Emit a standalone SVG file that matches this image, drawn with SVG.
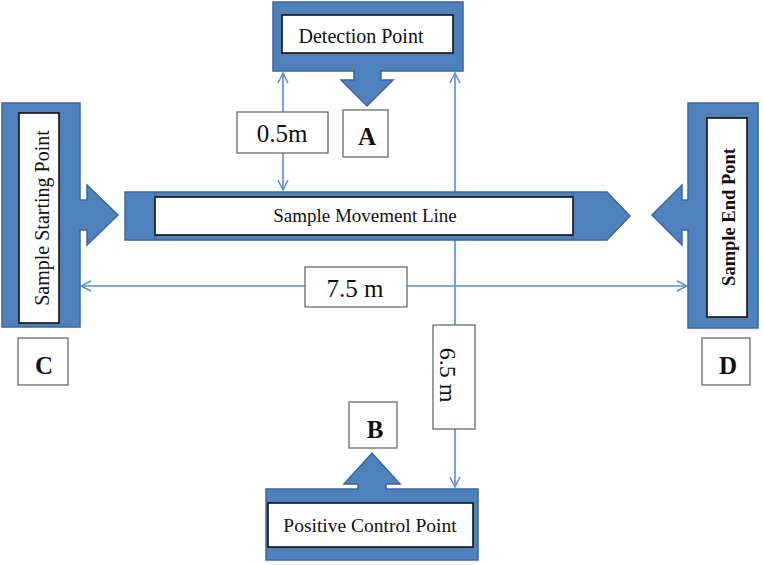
<svg xmlns="http://www.w3.org/2000/svg" width="763" height="565" viewBox="0 0 763 565">
<style>
.blue{fill:#4F81BD;stroke:#3A679E;stroke-width:1.5;stroke-linejoin:miter}
.inner{fill:#fff;stroke:#111;stroke-width:1.6}
.lbl{fill:#fff;stroke:#6b6b6b;stroke-width:1.3}
text{font-family:'Liberation Serif','Times New Roman',serif;fill:#111;text-anchor:middle}
.b{font-weight:bold}
.ln{stroke:#5B8DD0;stroke-width:1.6;fill:none}
</style>
<defs>
<marker id="ah" viewBox="0 0 12 12" refX="11" refY="6" markerWidth="12" markerHeight="12" markerUnits="userSpaceOnUse" orient="auto-start-reverse">
<path d="M1,1 L11,6 L1,11" fill="none" stroke="#5B8DD0" stroke-width="1.5"/>
</marker>
</defs>
<g id="connectors">
<line class="ln" x1="283" y1="73" x2="283" y2="190" marker-start="url(#ah)" marker-end="url(#ah)"/>
<line class="ln" x1="81" y1="286" x2="687" y2="286" marker-start="url(#ah)" marker-end="url(#ah)"/>
<line class="ln" x1="455" y1="73" x2="455" y2="487" marker-start="url(#ah)" marker-end="url(#ah)"/>
</g>
<g id="detection">
<path class="blue" d="M273,2 H463 V71 H381 V80 H393 L367,106 L341,80 H354 V71 H273 Z"/>
<rect class="inner" x="282" y="15" width="171" height="38"/>
<text x="361" y="43" font-size="20">Detection Point</text>
</g>
<g id="start">
<path class="blue" d="M2,103 H80 V200 H87 V185 L118,215 L87,245 V230 H80 V327 H2 Z"/>
<rect class="inner" x="19" y="113" width="40" height="210"/>
<text transform="translate(49,218) rotate(-90)" font-size="20">Sample Starting Point</text>
</g>
<g id="movement">
<path class="blue" d="M125,192 H607 L630,216 L607,240 H125 Z"/>
<rect class="inner" x="155" y="197" width="418" height="38"/>
<text x="365" y="222" font-size="19">Sample Movement Line</text>
</g>
<g id="end">
<path class="blue" d="M688,103 H758 V328 H688 V230 H682 V245 L652,215 L682,185 V200 H688 Z"/>
<rect class="inner" x="707" y="118" width="40" height="199"/>
<text class="b" transform="translate(735,217) rotate(-90)" font-size="18.5">Sample End Pont</text>
</g>
<g id="positive">
<path class="blue" d="M266,489 H358 V484 H344 L372,453 L400,484 H386 V489 H478 V560 H266 Z"/>
<rect class="inner" x="268" y="503" width="205" height="44"/>
<text x="370" y="532" font-size="19.5">Positive Control Point</text>
</g>
<g id="label-05">
<rect class="lbl" x="237" y="112" width="91" height="41"/>
<text x="282" y="142" font-size="25">0.5m</text>
</g>
<g id="label-A">
<rect class="lbl" x="343" y="110" width="45" height="47"/>
<text class="b" x="367" y="145" font-size="25">A</text>
</g>
<g id="label-75">
<rect class="lbl" x="305" y="267" width="102" height="40"/>
<text x="355" y="297" font-size="25">7.5 m</text>
</g>
<g id="label-65">
<rect class="lbl" x="433" y="325" width="42" height="104"/>
<text transform="translate(440,375) rotate(90)" font-size="24">6.5 m</text>
</g>
<g id="label-B">
<rect class="lbl" x="349" y="402" width="48" height="46"/>
<text class="b" x="375" y="438" font-size="25">B</text>
</g>
<g id="label-C">
<rect class="lbl" x="18" y="338" width="50" height="47"/>
<text class="b" x="44" y="374" font-size="25">C</text>
</g>
<g id="label-D">
<rect class="lbl" x="702" y="338" width="48" height="47"/>
<text class="b" x="728" y="374" font-size="25">D</text>
</g>
</svg>
